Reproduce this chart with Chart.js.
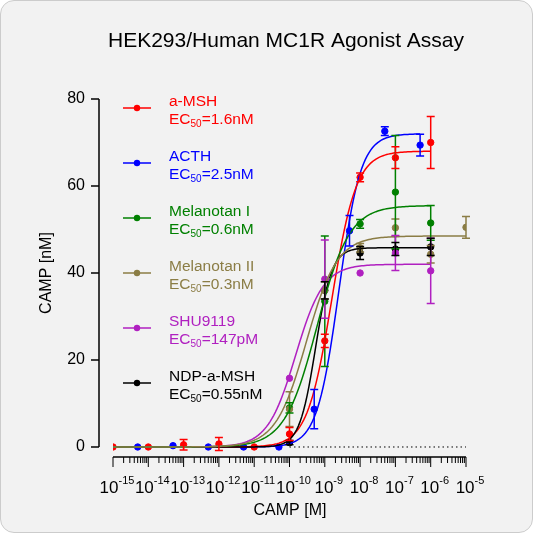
<!DOCTYPE html>
<html><head><meta charset="utf-8">
<script src="https://cdn.jsdelivr.net/npm/chart.js@4"></script>
<style>html,body{margin:0;padding:0;background:#fff}#w{position:relative;width:531px;height:531px;border:1px solid #ccc;border-radius:14px;background:#f2f2f2;overflow:hidden}</style>
</head><body><div id="w"><canvas id="c" width="531" height="531"></canvas></div>
<script>
const names=["a-MSH","ACTH","Melanotan I","Melanotan II","SHU9119","NDP-a-MSH"];
const ecLabels=["=1.6nM","=2.5nM","=0.6nM","=0.3nM","=147pM","=0.55nM"];
const colors=["#ff0000","#0000ff","#008000","#8b7d45","#b020c0","#000000"];
// log10 concentrations and mean responses
const xRed=[-15,-14,-13,-12,-11,-10,-9,-8,-7,-6];
const yRed=[0,0,0.5,0.7,0,3,24.4,62,66.5,70];
const eRed=[0,0,1.2,1.5,0,1.5,1.5,1,2.5,6];
const xBlue=[-14.3,-13.3,-12.3,-11.3,-10.3,-9.3,-8.3,-7.3,-6.3];
const yBlue=[0,0.3,0,0,0,8.7,49.7,72.6,69.4];
const eBlue=[0,0,0,0,0,4.5,3.5,1,2.5];
const xGreen=[-10,-9,-8,-7,-6];
const yGreen=[9,33.5,51.3,58.6,51.5];
const eGreen=[1.2,15,1,13,4];
const xOlive=[-10,-9,-8,-7,-6,-5];
const yOlive=[8.7,36,45.8,50.4,44.3,50.5];
const eOlive=[4,2,1,2,2,2.5];
const xMag=[-10,-9,-8,-7,-6];
const yMag=[15.8,38.6,40,44.6,40.5];
const eMag=[0,9,0,4,7.5];
const xBlack=[-10,-9,-8,-7,-6];
const yBlack=[1,36,44.6,45.5,46];
const eBlack=[0.5,2,1.5,1.5,2];
// fit parameters: top, logEC50, hill, curve end
const fitTop=[68,72,55.5,48.5,42,45.8];
const fitLogEC=[-8.8,-8.6,-9.22,-9.52,-9.83,-9.26];
const fitHill=[1.25,1.4,0.95,1.0,1.1,1.9];
const fitEnd=[-6,-6.3,-6,-5,-6,-6];
const xTicks=[-15,-14,-13,-12,-11,-10,-9,-8,-7,-6,-5];
const xTickExp=["-15","-14","-13","-12","-11","-10","-9","-8","-7","-6","-5"];
const yTicks=[0,20,40,60,80];

const pts=[[xRed,yRed,eRed],[xBlue,yBlue,eBlue],[xGreen,yGreen,eGreen],[xOlive,yOlive,eOlive],[xMag,yMag,eMag],[xBlack,yBlack,eBlack]];
const datasets=[];
const order=[3,2,4,5,0,1];
order.forEach(i=>{
  const d=[];
  for(let x=-15;x<=fitEnd[i]+1e-9;x+=0.05){d.push({x:x,y:fitTop[i]/(1+Math.pow(10,(fitLogEC[i]-x)*fitHill[i]))});}
  datasets.push({type:'line',data:d,borderColor:colors[i],borderWidth:1.5,pointRadius:0,tension:0});
});
order.forEach(i=>{
  datasets.push({type:'scatter',data:pts[i][0].map((x,k)=>({x:x,y:pts[i][1][k],e:pts[i][2][k]})),backgroundColor:colors[i],borderColor:colors[i],pointRadius:3.2,errIdx:i});
});
const ff="Arial, 'Liberation Sans', sans-serif";
const deco={id:'deco',
 beforeDatasetsDraw(ch){
  const c=ch.ctx,xs=ch.scales.x,ys=ch.scales.y;
  c.save();c.strokeStyle='#000';c.lineWidth=1.5;
  const ax=98;
  c.beginPath();c.moveTo(ax,ys.getPixelForValue(80));c.lineTo(ax,ys.getPixelForValue(0));c.stroke();
  yTicks.forEach(v=>{const p=ys.getPixelForValue(v);c.beginPath();c.moveTo(ax-8,p);c.lineTo(ax,p);c.stroke();});
  const by=456;
  c.beginPath();c.moveTo(xs.getPixelForValue(-15),by);c.lineTo(xs.getPixelForValue(-5),by);c.stroke();
  c.lineWidth=1;
  for(let d=-15;d<=-5;d++){const p=xs.getPixelForValue(d);c.beginPath();c.moveTo(p,by);c.lineTo(p,by+10);c.stroke();
    if(d<-5)for(let k=2;k<10;k++){const q=xs.getPixelForValue(d+Math.log10(k));c.beginPath();c.moveTo(q,by);c.lineTo(q,by+6);c.stroke();}}
  c.setLineDash([1.5,3]);c.beginPath();c.moveTo(xs.getPixelForValue(-10),ys.getPixelForValue(0));c.lineTo(xs.getPixelForValue(-5),ys.getPixelForValue(0));c.stroke();c.setLineDash([]);
  c.restore();
 },
 afterDatasetsDraw(ch){
  const c=ch.ctx,xs=ch.scales.x,ys=ch.scales.y;
  c.save();
  ch.data.datasets.forEach(ds=>{if(ds.errIdx===undefined)return;c.strokeStyle=colors[ds.errIdx];c.lineWidth=1.5;
    ds.data.forEach(p=>{if(!p.e)return;const px=xs.getPixelForValue(p.x),t=ys.getPixelForValue(p.y+p.e),b=ys.getPixelForValue(p.y-p.e);
      c.beginPath();c.moveTo(px,t);c.lineTo(px,b);c.moveTo(px-4,t);c.lineTo(px+4,t);c.moveTo(px-4,b);c.lineTo(px+4,b);c.stroke();});});
  c.fillStyle='#000';c.textAlign='center';c.textBaseline='middle';
  c.font="21px "+ff;c.fillText("HEK293/Human MC1R Agonist Assay",285,40);
  c.font="16px "+ff;c.fillText("CAMP [M]",289,510);
  c.save();c.translate(46,272);c.rotate(-Math.PI/2);c.fillText("CAMP [nM]",0,0);c.restore();
  // x tick labels: base + raised exponent
  xTicks.forEach((t,k)=>{const cx=xs.getPixelForValue(t);
    c.font="17px "+ff;const wb=c.measureText("10").width;c.font="11px "+ff;const we=c.measureText(xTickExp[k]).width;
    const x0=cx-(wb+we)/2+4;c.textAlign='left';c.font="17px "+ff;c.fillText("10",x0,487);
    c.font="11px "+ff;c.fillText(xTickExp[k],x0+wb,480);});
  for(let i=0;i<6;i++){const y0=101+i*55;c.strokeStyle=colors[i];c.fillStyle=colors[i];c.lineWidth=1.5;
    c.beginPath();c.moveTo(122,y0+6);c.lineTo(150,y0+6);c.stroke();c.beginPath();c.arc(136,y0+6,3.2,0,Math.PI*2);c.fill();
    c.textAlign='left';c.font="15.5px "+ff;c.fillText(names[i],168,y0);
    c.fillText("EC",168,y0+18);const w=c.measureText("EC").width;c.font="10px "+ff;c.fillText("50",168+w,y0+22);
    const w2=c.measureText("50").width;c.font="15.5px "+ff;c.fillText(ecLabels[i],168+w+w2,y0+18);}
  c.restore();
 }};
new Chart(document.getElementById('c'),{data:{datasets},
 options:{responsive:false,animation:false,events:[],
  layout:{padding:{top:98,right:66,left:0,bottom:0}},
  plugins:{legend:{display:false},tooltip:{enabled:false}},
  scales:{
   x:{type:'linear',min:-15,max:-5,grid:{display:false},border:{display:false},ticks:{display:false},afterFit(s){s.height=75;}},
   y:{type:'linear',min:-2.3,max:80,afterBuildTicks(s){s.ticks=yTicks.map(v=>({value:v}));},grid:{display:false},border:{display:false},
      ticks:{color:'#000',font:{size:16,family:ff},padding:20},afterFit(s){s.width=112;}}
  }},plugins:[deco]});
</script></body></html>
